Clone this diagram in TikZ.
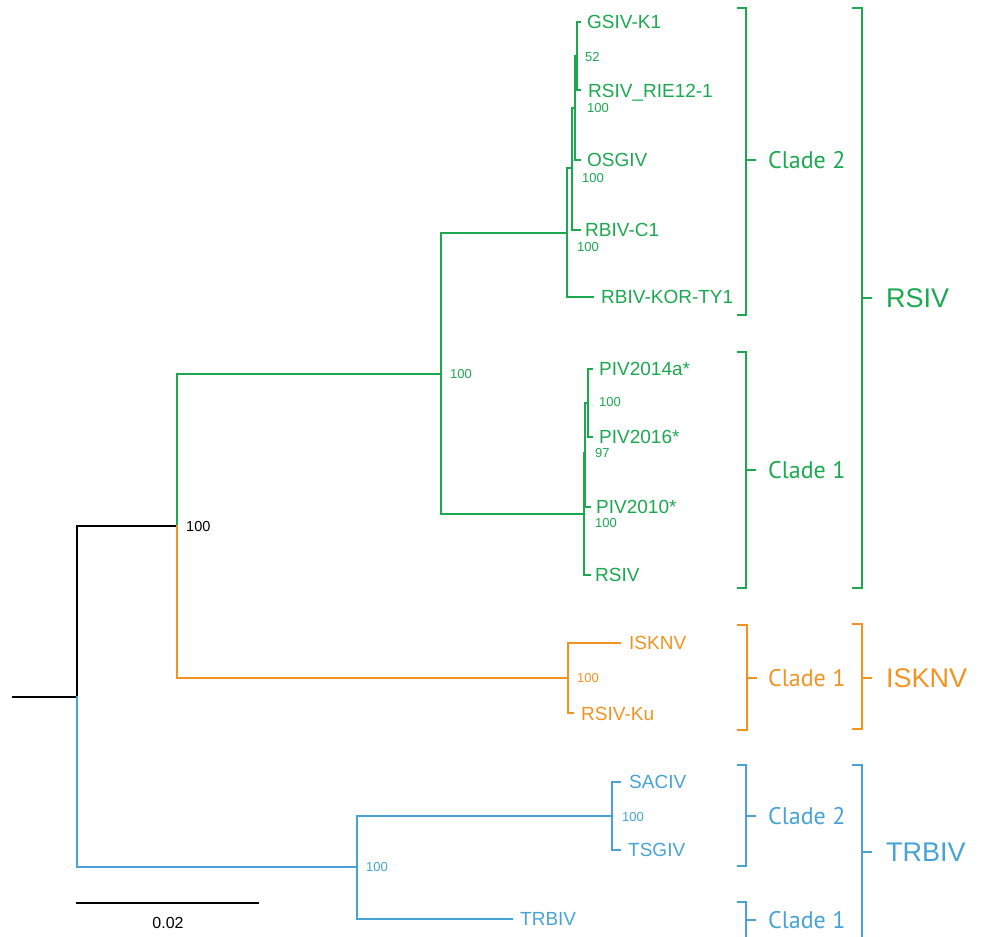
\documentclass[tikz,border=0pt]{standalone}
\usepackage{fontspec}
\setmainfont{Liberation Sans}
\newfontfamily\cladefont{PT Sans}
\definecolor{cgreen}{HTML}{1BA84E}
\definecolor{corange}{HTML}{F39221}
\definecolor{cblue}{HTML}{47A3D6}
\tikzset{
  br/.style={line width=1.8pt, line cap=rect},
  brk/.style={line width=1.5pt},
  leaf/.style={anchor=west, inner sep=0pt, font=\fontsize{19}{19}\selectfont, text height=13.6pt, text depth=0pt},
  boot/.style={anchor=west, inner sep=0pt, font=\fontsize{13}{13}\selectfont, text height=9.3pt, text depth=0pt},
  clade/.style={anchor=west, inner sep=0pt, font=\cladefont\fontsize{24}{24}\selectfont, text height=16.8pt, text depth=0pt},
  grp/.style={anchor=west, inner sep=0pt, font=\fontsize{27}{27}\selectfont, text height=19.3pt, text depth=0pt},
}
\begin{document}
\begin{tikzpicture}[x=1pt,y=-1pt]
\useasboundingbox (0,0) rectangle (981,936);
% ---- internal nodes and tips
\coordinate (r0) at (13,697);
\coordinate (r) at (77,697);
\coordinate (n1) at (177,526);
\coordinate (g) at (441,374);
\coordinate (c2) at (567,233);
\coordinate (m2) at (572,168);
\coordinate (m3) at (575,108);
\coordinate (m4) at (577,56);
\coordinate (tGSIV) at (580,22);
\coordinate (tRIE) at (580,90);
\coordinate (tOSGIV) at (580,160);
\coordinate (tC1) at (580,230);
\coordinate (tKOR) at (593,297);
\coordinate (c1) at (584,514);
\coordinate (n2) at (585,453);
\coordinate (n3) at (588,403);
\coordinate (tP14) at (592,369);
\coordinate (tP16) at (592,437);
\coordinate (tP10) at (590,507);
\coordinate (tRSIV) at (590,575);
\coordinate (ik) at (568,678);
\coordinate (tISKNV) at (620,643);
\coordinate (tKu) at (573,713);
\coordinate (tr) at (357,867);
\coordinate (sa) at (612,816);
\coordinate (tSACIV) at (620,782);
\coordinate (tTSGIV) at (620,850);
\coordinate (tTRBIV) at (512,919);
% ---- branches
\draw[br,black] (r0) -- (r) |- (n1);
\draw[br,cblue] (r) |- (tr);
\draw[br,cgreen] (n1) |- (g);
\draw[br,corange] (n1) |- (ik);
\begin{scope}[cgreen]
\draw[br] (g) |- (c2); \draw[br] (g) |- (c1);
\draw[br] (c2) |- (m2); \draw[br] (c2) |- (tKOR);
\draw[br] (m2) |- (m3); \draw[br] (m2) |- (tC1);
\draw[br] (m3) |- (m4); \draw[br] (m3) |- (tOSGIV);
\draw[br] (m4) |- (tGSIV); \draw[br] (m4) |- (tRIE);
\draw[br] (c1) |- (n2); \draw[br] (c1) |- (tRSIV);
\draw[br] (n2) |- (n3); \draw[br] (n2) |- (tP10);
\draw[br] (n3) |- (tP14); \draw[br] (n3) |- (tP16);
\end{scope}
\draw[br,corange] (ik) |- (tISKNV); \draw[br,corange] (ik) |- (tKu);
\draw[br,cblue] (tr) |- (sa); \draw[br,cblue] (tr) |- (tTRBIV);
\draw[br,cblue] (sa) |- (tSACIV); \draw[br,cblue] (sa) |- (tTSGIV);
% ---- leaf labels
\begin{scope}[cgreen]
\node[leaf] (lGSIV) at (587,22) {GSIV-K1};
\node[leaf] (lRIE) at (588,91) {RSIV\_RIE12-1};
\node[leaf] (lOSGIV) at (587,160) {OSGIV};
\node[leaf] (lC1) at (585,230) {RBIV-C1};
\node[leaf] (lKOR) at (601,297) {RBIV-KOR-TY1};
\node[leaf] (lP14) at (599,369) {PIV2014a*};
\node[leaf] (lP16) at (599,437) {PIV2016*};
\node[leaf] (lP10) at (596,507) {PIV2010*};
\node[leaf] (lRSIV) at (595,575) {RSIV};
\node[boot] (b1) at (585,57) {52};
\node[boot] (b2) at (587,108) {100};
\node[boot] (b3) at (582,178) {100};
\node[boot] (b4) at (577,247) {100};
\node[boot] (b5) at (450,374) {100};
\node[boot] (b6) at (599,402) {100};
\node[boot] (b7) at (595,453) {97};
\node[boot] (b8) at (595,523) {100};
\end{scope}
\node[boot,black,font=\fontsize{14.5}{14.5}\selectfont,text height=10.4pt] (b0) at (186,526) {100};
\begin{scope}[corange]
\node[leaf] (lISKNV) at (629,643) {ISKNV};
\node[leaf] (lKu) at (581,714) {RSIV-Ku};
\node[boot] (b9) at (577,678) {100};
\end{scope}
\begin{scope}[cblue]
\node[leaf] (lSACIV) at (629,782) {SACIV};
\node[leaf] (lTSGIV) at (628,850) {TSGIV};
\node[leaf] (lTRBIV) at (520,919) {TRBIV};
\node[boot] (b10) at (366,867) {100};
\node[boot] (b11) at (622,817) {100};
\end{scope}
% ---- brackets
\begin{scope}[cgreen]
\draw[brk] (737,8) -- (746,8) -- (746,315) -- (737,315);
\draw[brk] (746,160) -- (756,160);
\node[clade] (kc2) at (768,160) {Clade 2};
\draw[brk] (737,352) -- (746,352) -- (746,588) -- (737,588);
\draw[brk] (746,470) -- (756,470);
\node[clade] (kc1) at (768,470) {Clade 1};
\draw[brk] (852,8) -- (862,8) -- (862,588) -- (852,588);
\draw[brk] (862,298) -- (872,298);
\node[grp] (kg1) at (886,298) {RSIV};
\end{scope}
\begin{scope}[corange]
\draw[brk] (737,625) -- (747,625) -- (747,730) -- (737,730);
\draw[brk] (747,678) -- (757,678);
\node[clade] (ko1) at (768,678) {Clade 1};
\draw[brk] (852,624) -- (862,624) -- (862,729) -- (852,729);
\draw[brk] (862,678) -- (872,678);
\node[grp] (kg2) at (886,678) {ISKNV};
\end{scope}
\begin{scope}[cblue]
\draw[brk] (737,765) -- (746,765) -- (746,866) -- (737,866);
\draw[brk] (746,816) -- (756,816);
\node[clade] (kb2) at (768,816) {Clade 2};
\draw[brk] (737,902) -- (746,902) -- (746,940);
\draw[brk] (746,920) -- (756,920);
\node[clade] (kb1) at (768,920) {Clade 1};
\draw[brk] (852,765) -- (862,765) -- (862,940);
\draw[brk] (862,852) -- (872,852);
\node[grp] (kg3) at (886,852) {TRBIV};
\end{scope}
% ---- scale bar
\coordinate (s0) at (76,903);
\coordinate (s1) at (259,903);
\draw[line width=1.8pt] (s0) -- (s1);
\node[inner sep=0pt, font=\fontsize{16}{16}\selectfont, text height=11.5pt, text depth=0pt] (sl) at (168,923) {0.02};
\end{tikzpicture}
\end{document}
